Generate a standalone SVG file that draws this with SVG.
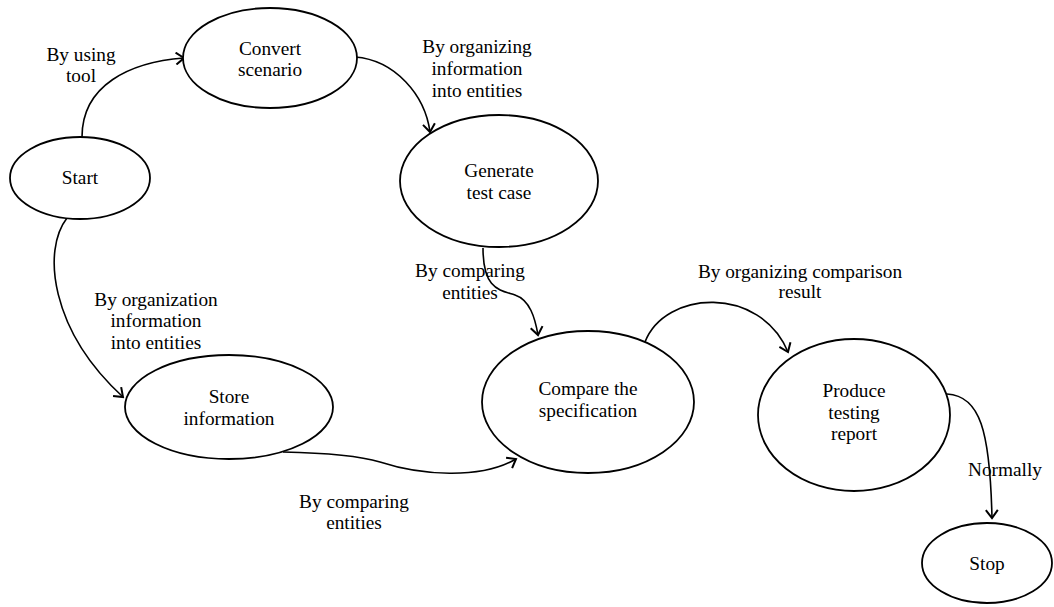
<svg xmlns="http://www.w3.org/2000/svg" width="1054" height="607" viewBox="0 0 1054 607">
  <style>
    .node ellipse { fill: #ffffff; stroke: #000000; stroke-width: 1.8; }
    text { font-family: 'Liberation Serif', 'Times New Roman', serif; font-size: 19.3px; fill: #000000; text-anchor: middle; }
    .edge { fill: none; stroke: #000000; stroke-width: 1.6; marker-end: url(#arrow); }
  </style>
  <defs>
    <marker id="arrow" markerUnits="userSpaceOnUse" viewBox="0 0 12 14" refX="10" refY="7" markerWidth="12" markerHeight="14" orient="auto">
      <path d="M2,1 L10,7 L2,13" fill="none" stroke="#000000" stroke-width="2"/>
    </marker>
  </defs>
  <rect width="1054" height="607" fill="#ffffff"/>

  <!-- connectors -->
  <g id="connectors">
    <path class="edge" d="M82,137 C82,85 130,62 184,58"/>
    <path class="edge" d="M355,57 C395,60 425,95 430,132"/>
    <path class="edge" d="M67,218 C42,250 50,330 123,397"/>
    <path class="edge" d="M483,248 C483,290 500,290 515,295 C530,300 535,318 538,335"/>
    <path class="edge" d="M283,452 C330,453 360,456 380,462 C420,475 480,480 516,459"/>
    <path class="edge" d="M645,342 C665,290 760,285 788,352"/>
    <path class="edge" d="M947,394 C980,396 990,430 992,518"/>
  </g>

  <!-- connector labels -->
  <g id="labels">
    <text x="81" y="61">By using</text>
    <text x="81" y="82">tool</text>
    <text x="477" y="53">By organizing</text>
    <text x="477" y="75">information</text>
    <text x="477" y="97">into entities</text>
    <text x="470" y="277">By comparing</text>
    <text x="470" y="299">entities</text>
    <text x="156" y="306">By organization</text>
    <text x="156" y="327">information</text>
    <text x="156" y="349">into entities</text>
    <text x="354" y="508">By comparing</text>
    <text x="354" y="529">entities</text>
    <text x="800" y="278">By organizing comparison</text>
    <text x="800" y="298">result</text>
    <text x="1005" y="476">Normally</text>
  </g>

  <!-- nodes -->
  <g id="start" class="node">
    <ellipse cx="80" cy="178" rx="70" ry="41"/>
    <text x="80" y="184">Start</text>
  </g>
  <g id="convert-scenario" class="node">
    <ellipse cx="270" cy="58" rx="87" ry="50"/>
    <text x="270" y="55">Convert</text>
    <text x="270" y="76">scenario</text>
  </g>
  <g id="generate-test-case" class="node">
    <ellipse cx="499" cy="181" rx="99" ry="66"/>
    <text x="499" y="177">Generate</text>
    <text x="499" y="199">test case</text>
  </g>
  <g id="store-information" class="node">
    <ellipse cx="229" cy="407" rx="104" ry="52"/>
    <text x="229" y="403">Store</text>
    <text x="229" y="425">information</text>
  </g>
  <g id="compare-specification" class="node">
    <ellipse cx="588" cy="402" rx="106" ry="71"/>
    <text x="588" y="395">Compare the</text>
    <text x="588" y="417">specification</text>
  </g>
  <g id="produce-report" class="node">
    <ellipse cx="854" cy="415" rx="96" ry="76"/>
    <text x="854" y="397">Produce</text>
    <text x="854" y="419">testing</text>
    <text x="854" y="440">report</text>
  </g>
  <g id="stop" class="node">
    <ellipse cx="987" cy="563" rx="65" ry="40"/>
    <text x="987" y="570">Stop</text>
  </g>
</svg>
